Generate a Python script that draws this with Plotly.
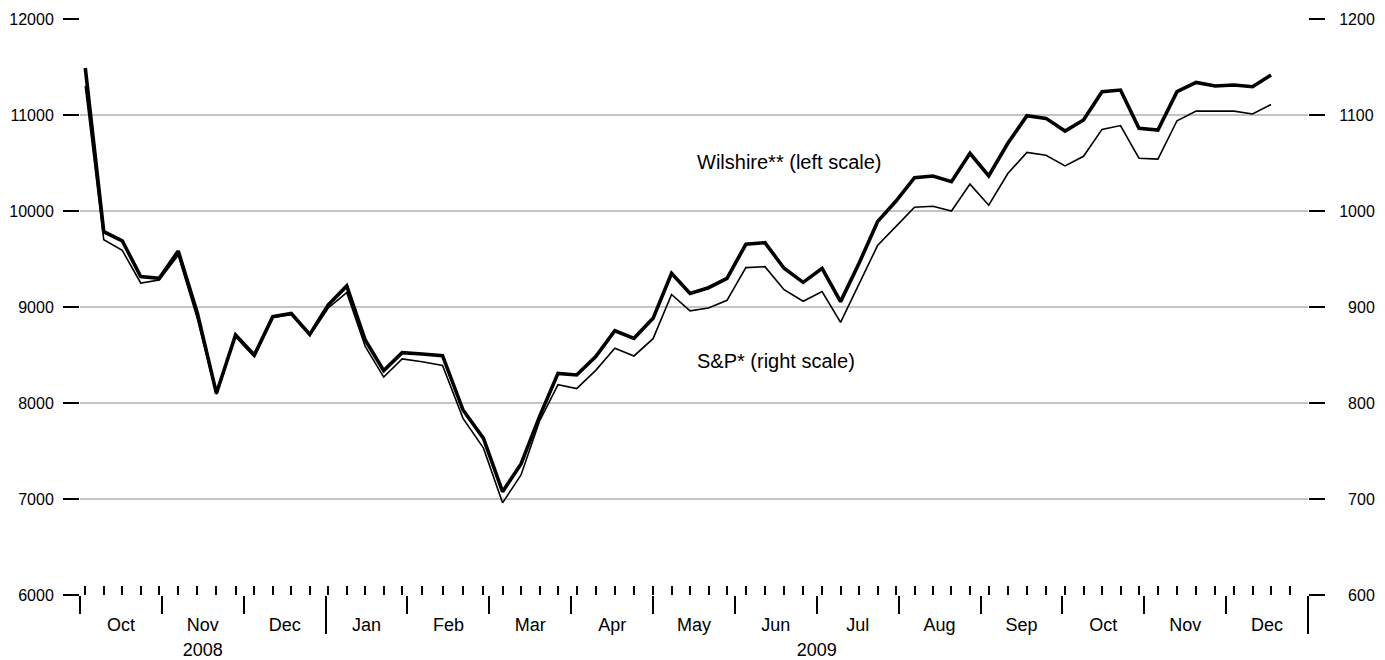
import calendar
import pandas as pd
import plotly.graph_objects as go

# ---------------- data ----------------
dates = pd.date_range("2008-10-03", periods=64, freq="7D")          # weekly (Fridays)
week_ticks = pd.date_range("2008-10-03", "2009-12-25", freq="7D")   # weekly tick marks

wilshire = [11490, 9784, 9690, 9316, 9299, 9583, 8937, 8101, 8708, 8500,
            8899, 8934, 8715, 9021, 9219, 8656, 8337, 8524, 8510, 8493,
            7927, 7632, 7076, 7365, 7858, 8309, 8292, 8483, 8753, 8674,
            8882, 9351, 9142, 9201, 9299, 9653, 9670, 9403, 9257, 9403,
            9056, 9455, 9889, 10104, 10347, 10365, 10306, 10601, 10365, 10705,
            10993, 10965, 10833, 10948, 11243, 11260, 10861, 10844, 11243, 11340,
            11302, 11313, 11295, 11417]

sp500 = [1130, 970, 959, 925, 928, 954, 888, 809, 869, 848,
         889, 892, 870, 899, 915, 859, 827, 846, 843, 839,
         784, 753, 696, 725, 781, 819, 815, 834, 857, 849,
         867, 913, 896, 899, 907, 941, 942, 918, 906, 916,
         884, 924, 964, 984, 1004, 1005, 1000, 1028, 1006, 1039,
         1061, 1058, 1047, 1057, 1085, 1089, 1055, 1054, 1094, 1104,
         1104, 1104, 1101, 1111]

month_labels = ["Oct", "Nov", "Dec", "Jan", "Feb", "Mar", "Apr", "May",
                "Jun", "Jul", "Aug", "Sep", "Oct", "Nov", "Dec"]
year_labels = ["2008", "2009"]
year_month_counts = [3, 12]

left_ticks = [6000, 7000, 8000, 9000, 10000, 11000, 12000]
right_ticks = [600, 700, 800, 900, 1000, 1100, 1200]

series_labels = ["Wilshire** (left scale)", "S&P* (right scale)"]

# ------------- month-based time scale (each month equal width) -------------
START_YEAR, START_MONTH = 2008, 10


def month_pos(ts):
    m = (ts.year - START_YEAR) * 12 + ts.month - START_MONTH
    dim = calendar.monthrange(ts.year, ts.month)[1]
    return m + (ts.day - 1) / dim


x_vals = [month_pos(d) for d in dates]
week_x = [month_pos(d) for d in week_ticks]
n_months = len(month_labels)
month_bounds = list(range(n_months + 1))
month_centers = [i + 0.5 for i in range(n_months)]

year_bounds = []
year_centers = []
acc = 0
for c in year_month_counts:
    year_centers.append(acc + c / 2)
    acc += c
    year_bounds.append(acc)

FONT = "Arial, 'Liberation Sans', Helvetica, sans-serif"

fig = go.Figure()
fig.add_trace(go.Scatter(x=x_vals, y=sp500, mode="lines", yaxis="y2",
                         line=dict(color="black", width=1.6),
                         name=series_labels[1], showlegend=False))
fig.add_trace(go.Scatter(x=x_vals, y=wilshire, mode="lines", yaxis="y",
                         line=dict(color="black", width=3.6),
                         name=series_labels[0], showlegend=False))

# dummy traces to activate extra x axes
fig.add_trace(go.Scatter(x=[None], y=[None], xaxis="x2", showlegend=False, hoverinfo="skip"))
fig.add_trace(go.Scatter(x=[None], y=[None], xaxis="x3", showlegend=False, hoverinfo="skip"))
fig.add_trace(go.Scatter(x=[None], y=[None], xaxis="x4", showlegend=False, hoverinfo="skip"))

xr = [0, n_months]

fig.update_layout(
    width=1377, height=652,
    margin=dict(l=72, r=77, t=11, b=65, autoexpand=False),
    paper_bgcolor="white", plot_bgcolor="white",
    font=dict(family=FONT, size=16, color="black"),
    showlegend=False,
    xaxis=dict(range=xr, tickmode="array", tickvals=month_bounds,
               ticks="outside", ticklen=18, tickwidth=2, tickcolor="black",
               showticklabels=False, showgrid=False, zeroline=False, showline=False,
               minor=dict(tickmode="array", tickvals=week_x, ticks="inside",
                          ticklen=9, tickwidth=1.6, tickcolor="black", showgrid=False)),
    xaxis2=dict(range=xr, overlaying="x", anchor="y", side="bottom",
                tickmode="array", tickvals=month_centers, ticktext=month_labels,
                ticks="", showgrid=False, zeroline=False, showline=False,
                ticklabelstandoff=17, tickfont=dict(size=18)),
    xaxis3=dict(range=xr, overlaying="x", anchor="y", side="bottom",
                tickmode="array", tickvals=year_bounds, ticks="outside",
                ticklen=38, tickwidth=2, tickcolor="black",
                showticklabels=False, showgrid=False, zeroline=False, showline=False),
    xaxis4=dict(range=xr, overlaying="x", anchor="y", side="bottom",
                tickmode="array", tickvals=year_centers, ticktext=year_labels,
                ticks="", showgrid=False, zeroline=False, showline=False,
                ticklabelstandoff=42, tickfont=dict(size=18)),
    yaxis=dict(range=[left_ticks[0], left_ticks[-1]], tickmode="array",
               tickvals=left_ticks, ticktext=[str(v) for v in left_ticks],
               ticks="outside", ticklen=16, tickwidth=2, tickcolor="black",
               showgrid=True, gridcolor="#c4c4c4", gridwidth=2,
               zeroline=False, showline=False, ticklabelstandoff=6,
               tickfont=dict(size=16)),
    yaxis2=dict(range=[right_ticks[0], right_ticks[-1]], overlaying="y", side="right",
                tickmode="array", tickvals=right_ticks,
                ticktext=[("\u2007" + str(v)) if v < 1000 else str(v) for v in right_ticks],
                ticks="outside", ticklen=16, tickwidth=2, tickcolor="black",
                showgrid=False, zeroline=False, showline=False, ticklabelstandoff=11,
                tickfont=dict(size=16)),
)

fig.add_annotation(x=7.51, y=10510, xref="x", yref="y", text=series_labels[0],
                   showarrow=False, xanchor="left", yanchor="middle",
                   font=dict(size=20, family=FONT))
fig.add_annotation(x=7.51, y=8437, xref="x", yref="y", text=series_labels[1],
                   showarrow=False, xanchor="left", yanchor="middle",
                   font=dict(size=20, family=FONT))

fig.write_html("out.html")
